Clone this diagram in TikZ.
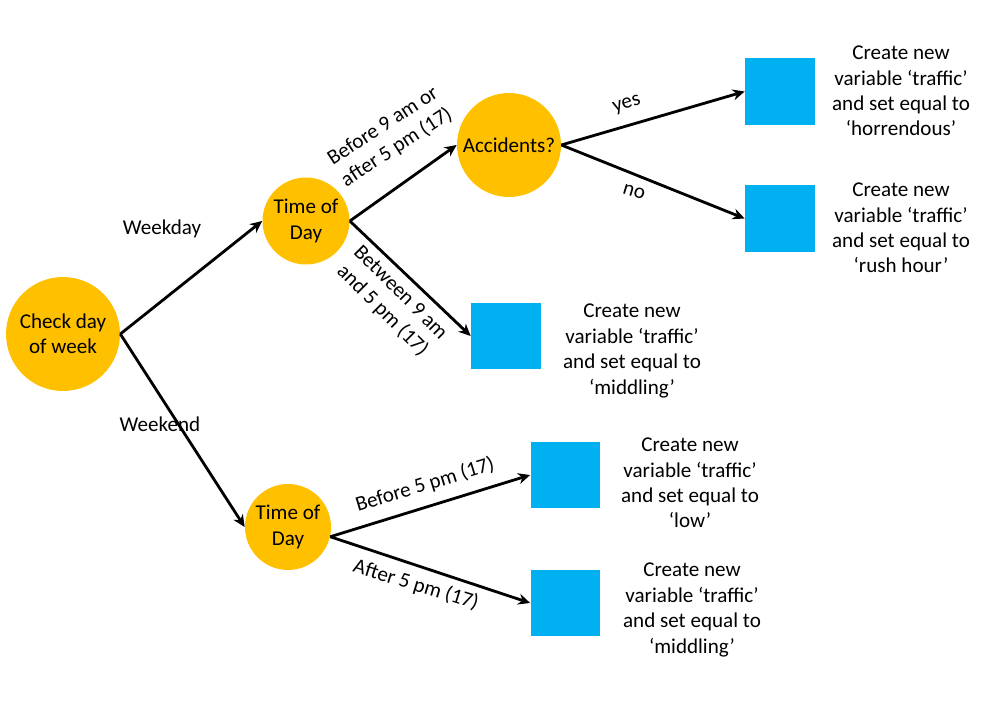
\documentclass[tikz,border=0pt]{standalone}
\usepackage{fontspec}
\setmainfont{Carlito}
\usepackage{tikz}
\usetikzlibrary{calc}
\usetikzlibrary{arrows.meta}
\definecolor{decgold}{HTML}{FFC000}
\definecolor{leafblue}{HTML}{00B0F0}
\tikzset{
  decision/.style={circle,fill=decgold,inner sep=0pt,align=center},
  leaf/.style={fill=leafblue,minimum width=1.4cm,minimum height=1.34cm,inner sep=0pt},
  outcome/.style={align=center},
  branch/.style={line width =1.6pt,-{Stealth[length=2.4mm,width=2.2mm]}},
  lbl/.style={align=center}
}

\begin{document}
\begin{tikzpicture}[x=0.02cm,y=-0.02cm,font=\fontsize{12}{14.5}\selectfont]
    \useasboundingbox (0,0) rectangle (992,720);
    % decisions
    \node [decision,minimum size=2.28cm] (check) at (63,334) {Check day\\of week};
    \node [decision,minimum size=1.74cm] (todA) at (306,221) {Time of\\Day};
    \node [decision,minimum size=2.08cm] (acc) at (509,145) {Accidents?};
    \node [decision,minimum size=1.72cm] (todB) at (288,527) {Time of\\Day};
    % leaves
    \node [leaf] (horr) at (780,91.5) {};
    \node [leaf] (rush) at (780,218.5) {};
    \node [leaf] (midA) at (506,336) {};
    \node [leaf] (low) at (565.5,475) {};
    \node [leaf] (midB) at (565.5,603) {};
    \node [outcome] (horrT) at (901,91) {Create new\\variable ‘traffic’\\and set equal to\\‘horrendous’};
    \node [outcome] (rushT) at (901,228) {Create new\\variable ‘traffic’\\and set equal to\\‘rush hour’};
    \node [outcome] (midAT) at (632,351) {Create new\\variable ‘traffic’\\and set equal to\\‘middling’};
    \node [outcome] (lowT) at (690,483) {Create new\\variable ‘traffic’\\and set equal to\\‘low’};
    \node [outcome] (midBT) at (692,610) {Create new\\variable ‘traffic’\\and set equal to\\‘middling’};
    % branches
    \draw [branch] (check.east) -- (todA.west);
    \draw [branch] (check.east) -- (todB.west);
    \draw [branch] (todA.east) -- (acc.west);
    \draw [branch] (todA.east) -- (midA.west);
    \draw [branch] (acc.east) -- (horr.west);
    \draw [branch] (acc.east) -- (rush.west);
    \draw [branch] (todB.-13) -- (low.west);
    \draw [branch] (todB.-13) -- (midB.west);
    % branch labels
    \node [lbl] (wday) at (162,229) {Weekday};
    \node [lbl] (wend) at (160,424) {Weekend};
    \node [lbl,rotate=33] (early) at (390,137) {Before 9 am or\\after 5 pm (17)};
    \node [lbl,rotate=-45] (mid) at (391,302) {Between 9 am\\and 5 pm (17)};
    \node [lbl,rotate=17] (yes) at (627,105) {yes};
    \node [lbl,rotate=-17] (no) at (634,192) {no};
    \node [lbl,rotate=17] (bfive) at (425,485) {Before 5 pm (17)};
    \node [lbl,rotate=-17] (afive) at (416,585) {After 5 pm (17)};
\end{tikzpicture}
\end{document}
